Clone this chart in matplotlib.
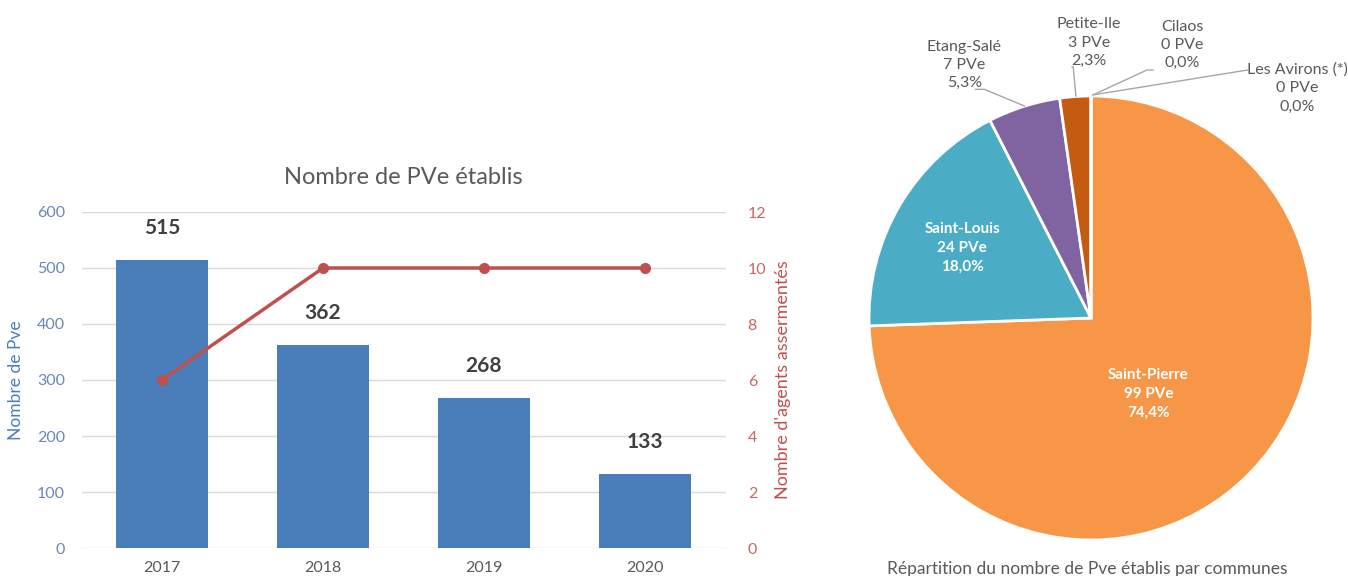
import numpy as np
import matplotlib
matplotlib.use("Agg")
from matplotlib import pyplot as plt

plt.rcParams['font.family'] = ['Lato', 'DejaVu Sans']

# donnees
annees = ['2017', '2018', '2019', '2020']
nb_pve = [515, 362, 268, 133]
nb_agents = [6, 10, 10, 10]

communes = ['Saint-Pierre', 'Saint-Louis', 'Etang-Salé', 'Petite-Ile', 'Cilaos', 'Les Avirons (*)']
pve_communes = [99, 24, 7, 3, 0, 0]
couleurs = ['#f79646', '#4bacc6', '#8064a2', '#c55a11', '#9bbb59', '#2c4d75']

bleu = '#4a7ebb'
rouge = '#c0504d'
gris = '#595959'

fig = plt.figure(figsize=(13.48, 5.76), dpi=100)

# --- graphique barres + courbe ---
ax = fig.add_axes([81.5 / 1348, 28 / 576, 644 / 1348, 336 / 576])
x = np.arange(len(annees))
ax.bar(x, nb_pve, width=0.57, color=bleu, zorder=2)
for xi, v in zip(x, nb_pve):
    ax.annotate(str(v), (xi, v), xytext=(0, 23), textcoords='offset points',
                ha='center', va='center', fontsize=15, fontweight='bold', color='#404040')
ax.set_xlim(-0.5, 3.5)
ax.set_ylim(0, 600)
ax.set_yticks(range(0, 601, 100))
ax.set_xticks(x)
ax.set_xticklabels(annees)
ax.grid(axis='y', color='#d9d9d9', lw=1, zorder=0)
for s in ax.spines.values():
    s.set_visible(False)
ax.tick_params(axis='both', length=0)
ax.tick_params(axis='y', colors='#6a86b8', labelsize=11.5, pad=12)
ax.tick_params(axis='x', colors=gris, labelsize=11.5, pad=9)
ax.set_ylabel('Nombre de Pve', color=bleu, fontsize=12.5, labelpad=9)
ax.set_title('Nombre de PVe établis', fontsize=17, color=gris, pad=20)

ax2 = ax.twinx()
ax2.plot(x, nb_agents, color=rouge, lw=2.5, marker='o', markersize=7)
ax2.set_ylim(0, 12)
ax2.set_yticks(range(0, 13, 2))
for s in ax2.spines.values():
    s.set_visible(False)
ax2.tick_params(axis='y', length=0, colors='#c86464', labelsize=11.5, pad=16)
ax2.set_ylabel("Nombre d'agents assermentés", color=rouge, fontsize=13, labelpad=6)

# --- camembert ---
axp = fig.add_axes([869 / 1348, 36 / 576, 444 / 1348, 444 / 576])
wedges, _ = axp.pie(pve_communes, colors=couleurs, startangle=90, counterclock=False,
                    radius=1, wedgeprops=dict(edgecolor='white', linewidth=2))
axp.set_xlim(-1, 1)
axp.set_ylim(-1, 1)
axp.set_aspect('equal')
axp.axis('off')

total = sum(pve_communes)
labels = ['%s\n%d PVe\n%s%%' % (c, v, ('%.1f' % (100 * v / total)).replace('.', ','))
          for c, v in zip(communes, pve_communes)]

# etiquettes interieures
for i, (rf, ang_shift) in zip([0, 1], [(0.43, -9), (0.66, 2)]):
    w = wedges[i]
    ang = np.deg2rad((w.theta1 + w.theta2) / 2 + ang_shift)
    axp.text(rf * np.cos(ang), rf * np.sin(ang), labels[i], ha='center', va='center',
             color='white', fontweight='bold', fontsize=11, linespacing=1.45)

# etiquettes exterieures
txt = dict(ha='center', va='center', color=gris, fontsize=11.5, linespacing=1.4)
axp.text(-0.57, 1.14, labels[2], clip_on=False, **txt)
axp.text(-0.01, 1.24, labels[3], clip_on=False, **txt)
axp.text(0.41, 1.23, labels[4], clip_on=False, **txt)
axp.text(0.93, 1.035, labels[5], clip_on=False, **txt)

lead = dict(color='#a6a6a6', lw=1, clip_on=False)
axp.plot([-0.52, -0.48, -0.30], [1.03, 1.03, 0.955], **lead)
axp.plot([-0.085, -0.08, -0.068], [1.13, 1.13, 1.0], **lead)
axp.plot([0.279, 0.252, 0.009], [1.117, 1.117, 1.005], **lead)
axp.plot([0.705, 0.009], [1.117, 1.005], **lead)

fig.text(1087 / 1348, 1 - 569 / 576, 'Répartition du nombre de Pve établis par communes',
         ha='center', va='center', color=gris, fontsize=12.5)

fig.savefig('out.png', dpi=100)
